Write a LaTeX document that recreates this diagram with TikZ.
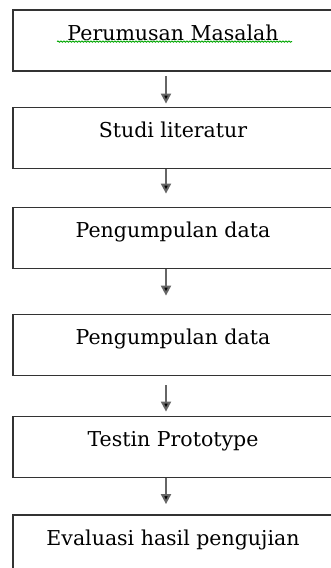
\documentclass[tikz,border=0pt]{standalone}
\usepackage{fontspec}
\setmainfont{DejaVu Serif}
\usepackage{tikz}
\usetikzlibrary{calc,positioning,arrows.meta,decorations.pathmorphing}

\tikzset{
  stepbox/.style={draw=black!80, line width=1.8pt, rectangle, minimum width=320pt,
    inner ysep=4pt, text height=26pt, text depth=27pt, font=\fontsize{20.5}{24}\selectfont},
  flow/.style={draw=black!60, line width=2pt, -{Triangle[length=10pt,width=10pt,fill=black]}},
  spell/.style={draw=green!65!black, line width=0.9pt, decorate,
    decoration={snake, amplitude=0.6pt, segment length=3pt}}
}

\begin{document}
\begin{tikzpicture}
\useasboundingbox (0,0) rectangle (331pt,-568pt);
						\node[stepbox] (masalah)  at (173pt, -40.5pt) {Perumusan Masalah};
						\node[stepbox] (studi)    at (173pt, -138pt)  {Studi literatur};
						\node[stepbox] (data)     at (173pt, -238pt)  {Pengumpulan data};
						\node[stepbox] (dataulang) at (173pt, -345pt) {Pengumpulan data};
						\node[stepbox] (testing)  at (173pt, -447pt)  {Testin Prototype};
						\node[stepbox] (evaluasi) at (173pt, -545.5pt) {Evaluasi hasil pengujian};
						
						% garis bawah ejaan
						\draw[spell] ($(masalah.north)+(-116pt,-32.5pt)$) -- ++(235pt,0);
						
						\draw[flow, shorten <=4pt, shorten >=3pt]  ([xshift=-7pt]masalah.south) -- ([xshift=-7pt]studi.north);
						\draw[flow, shorten >=13pt] ([xshift=-7pt]studi.south) -- ([xshift=-7pt]data.north);
						\draw[flow, shorten >=18pt] ([xshift=-7pt]data.south) -- ([xshift=-7pt]dataulang.north);
						\draw[flow, shorten <=9pt, shorten >=4pt] ([xshift=-7pt]dataulang.south) -- ([xshift=-7pt]testing.north);
						\draw[flow, shorten >=10pt] ([xshift=-7pt]testing.south) -- ([xshift=-7pt]evaluasi.north);
\end{tikzpicture}
\end{document}
